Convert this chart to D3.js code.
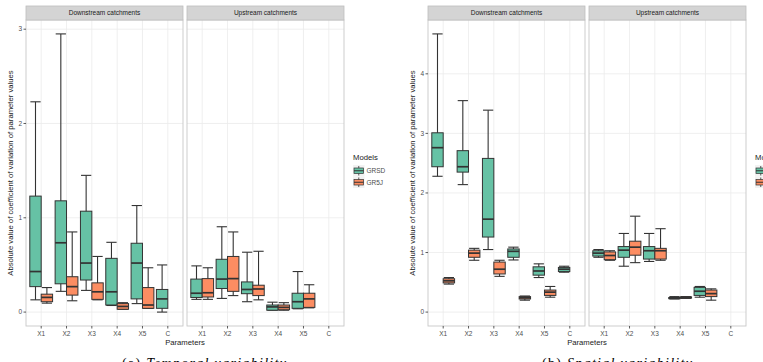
<!DOCTYPE html>
<html>
<head>
<meta charset="utf-8">
<script src="https://cdn.jsdelivr.net/npm/d3@7"></script>
<style>
  body { margin: 0; background: #fff; }
  svg { display: block; font-family: "Liberation Sans", Arial, sans-serif; }
  .tick-label { fill: #4d4d4d; font-size: 6.5px; }
  .axis-title { fill: #1a1a1a; font-size: 7.7px; }
  .strip-text { fill: #1a1a1a; font-size: 6.5px; }
  .caption { font-family: "Liberation Serif", "DejaVu Serif", serif; font-size: 14px; fill: #000; }
</style>
</head>
<body>
<svg id="chart" width="763" height="362"></svg>
<script>
// 参数 / 模型 / 分面
const params = ['X1', 'X2', 'X3', 'X4', 'X5', 'C'];
const models = ['GRSD', 'GR5J'];
const facets = ['Downstream catchments', 'Upstream catchments'];
const modelColors = ['#66c2a5', '#fc8d62'];

// 每个箱子: [whisker low, q1, median, q3, whisker high], null = no box
// (a) Temporal variability
const temporalDownGRSD = [[0.13, 0.27, 0.43, 1.23, 2.23], [0.22, 0.30, 0.735, 1.18, 2.95], [0.23, 0.34, 0.52, 1.07, 1.45],
                          [0.07, 0.075, 0.215, 0.57, 0.74], [0.09, 0.14, 0.52, 0.73, 1.13], [0.0, 0.04, 0.14, 0.24, 0.50]];
const temporalDownGR5J = [[0.095, 0.11, 0.156, 0.19, 0.26], [0.12, 0.18, 0.27, 0.375, 0.85], [0.13, 0.135, 0.215, 0.31, 0.59],
                          [0.03, 0.03, 0.06, 0.09, 0.10], [0.04, 0.04, 0.075, 0.26, 0.47], null];
const temporalUpGRSD = [[0.135, 0.155, 0.20, 0.35, 0.49], [0.145, 0.25, 0.35, 0.56, 0.905], [0.11, 0.195, 0.24, 0.32, 0.635],
                        [0.02, 0.02, 0.055, 0.075, 0.105], [0.035, 0.04, 0.11, 0.20, 0.43], null];
const temporalUpGR5J = [[0.135, 0.16, 0.205, 0.355, 0.47], [0.175, 0.22, 0.355, 0.59, 0.85], [0.13, 0.175, 0.245, 0.285, 0.645],
                        [0.02, 0.025, 0.05, 0.075, 0.10], [0.045, 0.05, 0.14, 0.20, 0.29], null];

// (b) Spatial variability
const spatialDownGRSD = [[2.28, 2.44, 2.76, 3.01, 4.67], [2.14, 2.35, 2.44, 2.71, 3.55], [1.05, 1.26, 1.56, 2.58, 3.39],
                         [0.875, 0.92, 1.02, 1.06, 1.09], [0.58, 0.62, 0.69, 0.76, 0.81], [0.67, 0.68, 0.72, 0.75, 0.77]];
const spatialDownGR5J = [[0.47, 0.49, 0.525, 0.56, 0.58], [0.87, 0.92, 0.99, 1.04, 1.07], [0.60, 0.64, 0.72, 0.84, 0.87],
                         [0.20, 0.22, 0.24, 0.26, 0.27], [0.25, 0.28, 0.335, 0.37, 0.43], null];
const spatialUpGRSD = [[0.92, 0.94, 0.99, 1.03, 1.05], [0.77, 0.92, 1.04, 1.10, 1.32], [0.85, 0.89, 1.03, 1.10, 1.32],
                       [0.22, 0.225, 0.235, 0.245, 0.26], [0.25, 0.28, 0.35, 0.415, 0.43], null];
const spatialUpGR5J = [[0.87, 0.88, 0.95, 1.01, 1.03], [0.83, 0.955, 1.09, 1.19, 1.61], [0.87, 0.89, 1.03, 1.07, 1.40],
                       [0.23, 0.235, 0.245, 0.255, 0.26], [0.20, 0.26, 0.31, 0.37, 0.39], null];

const yTicksA = [0, 1, 2, 3];
const yTicksB = [0, 1, 2, 3, 4];

const svg = d3.select('#chart');

// 画一张图 (两个分面 + 图例 + 标题)
function drawFigure(cfg) {
    let panelW = 157, gap = 4,
        top = 20, bottom = 326, stripTop = 6;

    // 所有数值, 用来算 y 范围 (ggplot 5% 扩展)
    let all = [];
    cfg.series.forEach(f => f.forEach(m => m.forEach(b => { if (b) all.push(b[0], b[4]); })));
    let ext = d3.extent(all);
    ext[0] = Math.min(ext[0], 0);
    let pad = (ext[1] - ext[0]) * 0.05;
    let y = d3.scaleLinear().domain([ext[0] - pad, ext[1] + pad]).range([bottom, top]);

    let g = svg.append('g');

    facets.forEach(function (facet, fi) {
        let x0 = cfg.left + fi * (panelW + gap);
        let x = d3.scalePoint().domain(params).range([x0, x0 + panelW]).padding(0.6);
        let step = x.step(),
            boxW = step * 0.45,
            capW = boxW * 0.9;

        let p = g.append('g');

        // 网格
        p.selectAll('.gx').data(params).enter().append('line')
            .attr('x1', d => x(d)).attr('x2', d => x(d))
            .attr('y1', top).attr('y2', bottom)
            .attr('stroke', '#ebebeb').attr('stroke-width', 0.8);
        p.selectAll('.gy').data(cfg.yTicks).enter().append('line')
            .attr('x1', x0).attr('x2', x0 + panelW)
            .attr('y1', d => y(d)).attr('y2', d => y(d))
            .attr('stroke', '#ebebeb').attr('stroke-width', 0.8);

        // 箱线图
        models.forEach(function (model, mi) {
            let data = cfg.series[fi][mi];
            let items = params.map((k, i) => ({k: k, v: data[i]})).filter(d => d.v);
            let cx = d => x(d.k) + (mi === 0 ? -1 : 1) * boxW / 2;
            let bg = p.append('g');
            // whisker
            bg.selectAll('.wh').data(items).enter().append('line')
                .attr('x1', cx).attr('x2', cx)
                .attr('y1', d => y(d.v[0])).attr('y2', d => y(d.v[4]))
                .attr('stroke', '#333').attr('stroke-width', 1.1);
            // caps
            [0, 4].forEach(function (j) {
                bg.selectAll('.cap' + j).data(items).enter().append('line')
                    .attr('x1', d => cx(d) - capW / 2).attr('x2', d => cx(d) + capW / 2)
                    .attr('y1', d => y(d.v[j])).attr('y2', d => y(d.v[j]))
                    .attr('stroke', '#333').attr('stroke-width', 1.1);
            });
            // box
            bg.selectAll('.box').data(items).enter().append('rect')
                .attr('x', d => cx(d) - boxW / 2)
                .attr('width', boxW)
                .attr('y', d => y(d.v[3]))
                .attr('height', d => y(d.v[1]) - y(d.v[3]))
                .attr('fill', modelColors[mi])
                .attr('stroke', '#333').attr('stroke-width', 1);
            // median
            bg.selectAll('.med').data(items).enter().append('line')
                .attr('x1', d => cx(d) - boxW / 2).attr('x2', d => cx(d) + boxW / 2)
                .attr('y1', d => y(d.v[2])).attr('y2', d => y(d.v[2]))
                .attr('stroke', '#333').attr('stroke-width', 1.7);
        });

        // 面板边框
        p.append('rect')
            .attr('x', x0).attr('y', top)
            .attr('width', panelW).attr('height', bottom - top)
            .attr('fill', 'none').attr('stroke', '#c8c8c8').attr('stroke-width', 0.9);

        // 分面标题
        p.append('rect')
            .attr('x', x0).attr('y', stripTop)
            .attr('width', panelW).attr('height', top - stripTop)
            .attr('fill', '#d4d4d4').attr('stroke', '#bdbdbd').attr('stroke-width', 0.8);
        p.append('text')
            .attr('class', 'strip-text')
            .attr('x', x0 + panelW / 2).attr('y', (stripTop + top) / 2 + 2.3)
            .attr('text-anchor', 'middle')
            .text(facet);

        // x 轴刻度
        p.selectAll('.xt').data(params).enter().append('line')
            .attr('x1', d => x(d)).attr('x2', d => x(d))
            .attr('y1', bottom).attr('y2', bottom + 2.5)
            .attr('stroke', '#333').attr('stroke-width', 0.8);
        p.selectAll('.xl').data(params).enter().append('text')
            .attr('class', 'tick-label')
            .attr('x', d => x(d)).attr('y', bottom + 9.5)
            .attr('text-anchor', 'middle')
            .text(d => d);
    });

    // y 轴刻度
    g.selectAll('.yt').data(cfg.yTicks).enter().append('line')
        .attr('x1', cfg.left - 2.5).attr('x2', cfg.left)
        .attr('y1', d => y(d)).attr('y2', d => y(d))
        .attr('stroke', '#333').attr('stroke-width', 0.8);
    g.selectAll('.yl').data(cfg.yTicks).enter().append('text')
        .attr('class', 'tick-label')
        .attr('x', cfg.left - 4).attr('y', d => y(d) + 2.3)
        .attr('text-anchor', 'end')
        .text(d => d);

    // 轴标题
    let right = cfg.left + 2 * panelW + gap;
    g.append('text')
        .attr('class', 'axis-title')
        .attr('x', (cfg.left + right) / 2).attr('y', bottom + 19)
        .attr('text-anchor', 'middle')
        .text('Parameters');
    g.append('text')
        .attr('class', 'axis-title')
        .attr('transform', 'translate(' + (cfg.left - 13) + ',' + ((top + bottom) / 2) + ') rotate(-90)')
        .attr('text-anchor', 'middle')
        .text('Absolute value of coefficient of variation of parameter values');

    // 图例
    let lx = right + 9, ly = 160;
    g.append('text')
        .attr('class', 'axis-title')
        .attr('x', lx).attr('y', ly)
        .text('Models');
    models.forEach(function (m, i) {
        let ky = ly + 5 + i * 11.5;
        let kg = g.append('g');
        kg.append('rect')
            .attr('x', lx).attr('y', ky)
            .attr('width', 11.5).attr('height', 11.5)
            .attr('fill', '#f2f2f2');
        kg.append('line')
            .attr('x1', lx + 5.75).attr('x2', lx + 5.75)
            .attr('y1', ky + 1).attr('y2', ky + 10.5)
            .attr('stroke', '#333').attr('stroke-width', 0.8);
        kg.append('rect')
            .attr('x', lx + 1).attr('y', ky + 3)
            .attr('width', 9.5).attr('height', 5.5)
            .attr('fill', modelColors[i])
            .attr('stroke', '#333').attr('stroke-width', 0.7);
        kg.append('line')
            .attr('x1', lx + 1).attr('x2', lx + 10.5)
            .attr('y1', ky + 5.75).attr('y2', ky + 5.75)
            .attr('stroke', '#333').attr('stroke-width', 1);
        kg.append('text')
            .attr('class', 'tick-label')
            .attr('x', lx + 13.5).attr('y', ky + 8)
            .text(m);
    });

    // 子图标题 (原图底部被裁掉一半)
    let cap = g.append('text')
        .attr('class', 'caption')
        .attr('x', cfg.captionX).attr('y', 368)
        .attr('letter-spacing', '1.3px');
    cap.append('tspan').text(cfg.captionTag + ' ');
    cap.append('tspan').attr('font-style', 'italic').text(cfg.captionText);
}

drawFigure({
    left: 26,
    yTicks: yTicksA,
    series: [[temporalDownGRSD, temporalDownGR5J], [temporalUpGRSD, temporalUpGR5J]],
    captionX: 122,
    captionTag: '(a)',
    captionText: 'Temporal variability'
});

drawFigure({
    left: 428,
    yTicks: yTicksB,
    series: [[spatialDownGRSD, spatialDownGR5J], [spatialUpGRSD, spatialUpGR5J]],
    captionX: 542,
    captionTag: '(b)',
    captionText: 'Spatial variability'
});
</script>
</body>
</html>
